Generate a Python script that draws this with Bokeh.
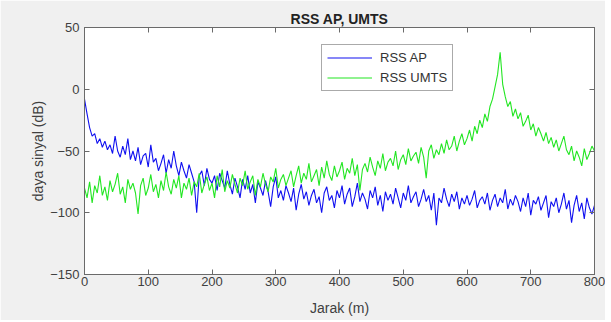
from bokeh.plotting import figure
from bokeh.models import FixedTicker, LinearAxis, Range1d, Legend, LegendItem
from bokeh.embed import file_html
from bokeh.resources import INLINE

jarak = list(range(0, 801, 4))

rss_ap = [
    -8, -20, -31, -38, -36, -44, -40, -47, -42, -49,
    -45, -52, -38, -50, -55, -46, -53, -40, -57, -50,
    -58, -47, -61, -54, -52, -63, -45, -59, -56, -66,
    -60, -53, -68, -57, -64, -50, -62, -70, -59, -66,
    -72, -61, -68, -75, -100, -70, -66, -78, -64, -73,
    -76, -70, -82, -68, -74, -80, -66, -77, -85, -72,
    -79, -88, -73, -81, -70, -84, -77, -92, -75, -80,
    -86, -74, -83, -95, -79, -71, -88, -82, -90, -78,
    -84, -91, -80, -98, -85, -77, -89, -83, -94, -86,
    -81, -92, -87, -100, -84, -79, -90, -86, -96, -82,
    -88, -78, -93, -85, -80, -95, -87, -76, -91, -84,
    -89, -97, -82, -88, -79, -94, -86, -99, -83, -90,
    -85, -93, -80, -88, -96, -84, -90, -78, -92, -87,
    -83, -95, -89, -81, -91, -86, -98, -84, -110, -88,
    -92, -80, -89, -95, -85, -91, -83, -97, -88, -93,
    -86, -94, -89, -82, -96, -90, -87, -93, -84, -98,
    -90, -85, -95, -88, -92, -81, -97, -89, -94, -86,
    -91, -99, -88, -95, -84, -102, -90, -93, -87, -98,
    -92, -86, -104, -91, -95, -88, -100, -93, -84, -97,
    -90, -108, -94, -86, -99, -92, -105, -88, -96, -101,
    -94,
]

rss_umts = [
    -80, -88, -75, -92, -78, -84, -70, -86, -79, -90,
    -74, -83, -77, -68, -85, -79, -92, -73, -81, -76,
    -84, -101, -78, -72, -86, -80, -69, -83, -77, -88,
    -74, -82, -67, -79, -85, -73, -80, -70, -88, -76,
    -81, -72, -86, -75, -79, -68, -84, -77, -71, -82,
    -76, -88, -70, -79, -65, -83, -74, -80, -69, -77,
    -84, -72, -78, -66, -81, -75, -70, -86, -73, -79,
    -68, -77, -83, -71, -75, -64, -80, -73, -69, -78,
    -72, -66, -79, -70, -62, -76, -68, -73, -60, -75,
    -70, -65, -78, -63, -72, -58, -69, -74, -62, -71,
    -66, -59, -73, -64, -68, -56, -70, -61, -82, -65,
    -60, -67, -55, -63, -70, -58, -64, -52, -66, -59,
    -56, -62, -50, -65, -57, -53, -61, -48, -58, -54,
    -51, -60, -47, -55, -72, -50, -45, -56, -49, -53,
    -44, -52, -41, -49, -46, -38, -50, -42, -36, -45,
    -40, -33, -42, -30, -36, -25, -31, -20, -26, -14,
    -8, 2, 12, 30, 4, -6, -14, -10, -22, -16,
    -24, -19, -30, -26, -21, -33, -28, -38, -31, -36,
    -42, -35, -44, -39, -47, -41, -50, -44, -38, -49,
    -53, -46, -58, -50, -55, -62, -48, -57, -52, -46,
    -50,
]

x_ticks = [0, 100, 200, 300, 400, 500, 600, 700, 800]
y_ticks = [-150, -100, -50, 0, 50]

FONT = "Liberation Sans"
AX_COL = "#6a6a6a"
TXT_COL = "#404040"

p = figure(width=605, height=320, output_backend="svg", toolbar_location=None,
           x_range=Range1d(0, 800), y_range=Range1d(-150, 50),
           min_border_left=84, min_border_right=11, min_border_top=27,
           min_border_bottom=46)

p.title.text = "RSS AP, UMTS"
p.title.align = "center"
p.title.text_font = FONT
p.title.text_font_size = "14px"
p.title.text_font_style = "bold"
p.title.text_color = "#222222"
p.title.standoff = 2
p.title.offset = 0

p.border_fill_color = "#f0f0f0"
p.background_fill_color = "white"
p.outline_line_color = AX_COL
p.grid.visible = False

r1 = p.line(jarak, rss_ap, line_color="#1010f0", line_width=1.1)
r2 = p.line(jarak, rss_umts, line_color="#22e622", line_width=1.1)

for ax in p.xaxis + p.yaxis:
    ax.major_tick_in = 5
    ax.major_tick_out = 0
    ax.minor_tick_in = 0
    ax.minor_tick_out = 0
    ax.axis_line_color = AX_COL
    ax.major_tick_line_color = AX_COL
    ax.major_label_text_font = FONT
    ax.major_label_text_font_size = "13px"
    ax.major_label_text_color = TXT_COL
    ax.axis_label_text_font = FONT
    ax.axis_label_text_font_size = "14px"
    ax.axis_label_text_font_style = "normal"
    ax.axis_label_text_color = TXT_COL

p.xaxis.ticker = FixedTicker(ticks=x_ticks)
p.yaxis.ticker = FixedTicker(ticks=y_ticks)
p.xaxis.axis_label = "Jarak (m)"
p.yaxis.axis_label = "daya sinyal (dB)"
p.xaxis.major_label_standoff = 2
p.xaxis.axis_label_standoff = 11
p.yaxis.major_label_standoff = 5
p.yaxis.axis_label_standoff = 1

top = LinearAxis(ticker=FixedTicker(ticks=x_ticks),
                 major_label_overrides={t: "" for t in x_ticks})
right = LinearAxis(ticker=FixedTicker(ticks=y_ticks),
                   major_label_overrides={t: "" for t in y_ticks})
for ax in (top, right):
    ax.major_tick_in = 5
    ax.major_tick_out = 0
    ax.minor_tick_in = 0
    ax.minor_tick_out = 0
    ax.axis_line_color = AX_COL
    ax.major_tick_line_color = AX_COL
    ax.major_label_standoff = 0
p.add_layout(top, "above")
p.add_layout(right, "right")

legend = Legend(items=[LegendItem(label="RSS AP", renderers=[r1]),
                       LegendItem(label="RSS UMTS", renderers=[r2])],
                location=(237, 183))
legend.margin = 0
legend.padding = 5
legend.spacing = 5
legend.glyph_width = 45
legend.glyph_height = 15
legend.label_height = 15
legend.label_standoff = 8
legend.label_text_font = FONT
legend.label_text_font_size = "13px"
legend.label_text_color = "#333333"
legend.border_line_color = "#555555"
legend.background_fill_color = "white"
legend.background_fill_alpha = 1
p.add_layout(legend, "center")

open("out.html", "w").write(file_html(p, INLINE))
